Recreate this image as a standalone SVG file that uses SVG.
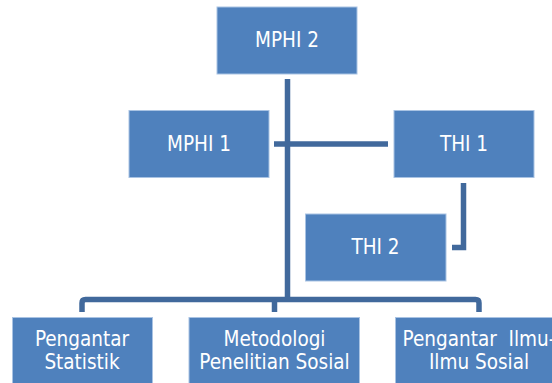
<svg xmlns="http://www.w3.org/2000/svg" width="552" height="383" viewBox="0 0 552 383">
<style>
.box{fill:#4F81BD;stroke:#A9C3E3;stroke-width:1}
.lbl{font-family:'DejaVu Sans Condensed','DejaVu Sans',sans-serif;font-size:20.5px;fill:#FFFFFF;text-anchor:middle}
.con{fill:none;stroke:#41699C;stroke-width:5.5;stroke-linecap:butt;stroke-linejoin:miter}
</style>
<rect width="552" height="383" fill="#FFFFFF"/>
<g id="connectors">
<path class="con" d="M287.5,79 V299.5"/>
<path class="con" d="M274,144 H388"/>
<path class="con" d="M463.5,183 V247.5 H452"/>
<path class="con" d="M82,312 V303 Q82,299.5 85.5,299.5 H475.5 Q479,299.5 479,303 V312"/>
<path class="con" d="M274.5,299.5 V312"/>
</g>
<g id="mphi2"><rect class="box" x="217" y="7" width="140" height="67"/><text class="lbl" x="287" y="47">MPHI 2</text></g>
<g id="mphi1"><rect class="box" x="129" y="110.5" width="140" height="67"/><text class="lbl" x="199" y="151">MPHI 1</text></g>
<g id="thi1"><rect class="box" x="394" y="110.5" width="140" height="67"/><text class="lbl" x="464" y="151">THI 1</text></g>
<g id="thi2"><rect class="box" x="305.5" y="214" width="140.5" height="67"/><text class="lbl" x="375.5" y="253.5">THI 2</text></g>
<g id="pengantar-statistik"><rect class="box" x="12.5" y="317.5" width="140" height="67"/><text class="lbl" x="82" y="345.5">Pengantar<tspan x="82" y="369">Statistik</tspan></text></g>
<g id="metodologi"><rect class="box" x="189" y="317.5" width="170.5" height="67"/><text class="lbl" x="274.5" y="345.5">Metodologi<tspan x="274.5" y="369">Penelitian Sosial</tspan></text></g>
<g id="pengantar-ilmu"><rect class="box" x="395.5" y="317.5" width="168" height="67"/><text class="lbl" x="479" y="345.5" xml:space="preserve">Pengantar  Ilmu-<tspan x="479" y="369">Ilmu Sosial</tspan></text></g>
</svg>
